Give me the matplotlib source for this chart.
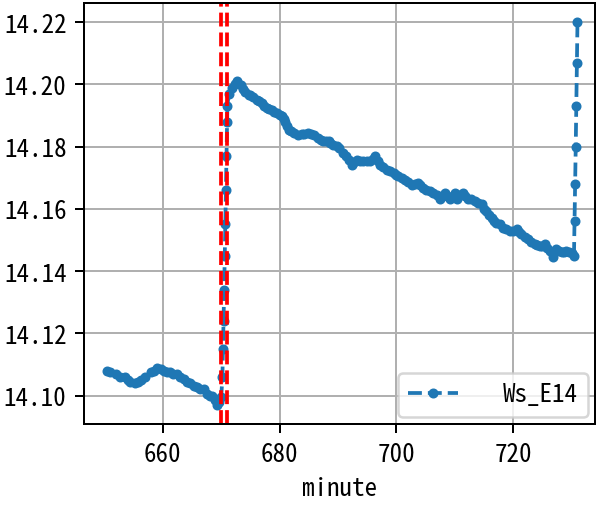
import matplotlib
matplotlib.use("Agg")
import matplotlib.pyplot as plt

plt.rcParams["font.family"] = ["Noto Sans Mono CJK SC", "Noto Sans CJK SC", "DejaVu Sans"]
plt.rcParams["axes.unicode_minus"] = False

minute = [
    650.5, 651.0, 651.9, 652.7, 653.6, 654.0, 654.4, 655.3, 655.8, 656.2,
    657.0, 657.9, 658.5, 659.0, 659.6, 660.2, 660.7, 661.3, 661.8, 662.4,
    663.0, 663.6, 664.1, 664.7, 665.3, 665.9, 666.4, 667.0, 667.6, 668.0,
    668.4, 668.9, 669.3, 669.7, 670.0,
    670.2, 670.3, 670.4, 670.5, 670.6, 670.7, 670.8, 670.9, 671.0, 671.05,
    671.3, 671.9, 672.3, 672.7, 673.3, 673.7, 674.1, 674.7, 675.0, 675.5,
    676.1, 676.5, 677.0, 677.4, 677.8, 678.2, 678.7, 679.0, 679.5, 680.0,
    680.4, 680.7, 681.0, 681.3, 681.6, 682.0, 682.4, 683.2, 683.8, 684.1,
    684.9, 685.3, 685.8, 686.6, 687.1, 687.5, 688.0, 688.4, 688.7, 689.2,
    689.8, 690.2, 690.9, 691.3, 691.8, 692.4, 692.8, 693.2, 693.7, 694.3,
    694.9, 695.5, 696.0, 696.4, 696.8, 697.2, 697.7, 698.3, 698.9, 699.5,
    700.0, 700.3, 700.9, 701.5, 702.0, 702.6, 703.1, 703.7, 704.1, 704.6,
    705.1, 705.7, 706.3, 706.9, 707.5, 707.9, 708.3, 708.7, 709.2, 709.6,
    710.0, 710.4, 710.9, 711.4, 711.8, 712.3, 712.8, 713.4, 714.0, 714.6,
    715.0, 715.4, 715.8, 716.3, 716.7, 717.1, 717.7, 718.3, 718.8, 719.4,
    720.0, 720.6, 721.0, 721.4, 722.0, 722.5, 723.1, 723.7, 724.1, 724.5,
    724.9, 725.4, 725.8, 726.3, 726.8, 727.4, 727.9, 728.3, 728.7, 729.1,
    729.5, 730.0, 730.4,
    730.5, 730.6, 730.7, 730.8, 730.9, 731.0,
]
ws_e14 = [
    14.1080, 14.1075, 14.1070, 14.1060, 14.1060, 14.1050, 14.1045, 14.1040, 14.1042, 14.1050,
    14.1060, 14.1075, 14.1080, 14.1090, 14.1085, 14.1080, 14.1075, 14.1075, 14.1070, 14.1070,
    14.1060, 14.1052, 14.1045, 14.1040, 14.1030, 14.1027, 14.1020, 14.1020, 14.1005, 14.1000,
    14.0998, 14.0985, 14.0970, 14.0980, 14.0995,
    14.1060, 14.1150, 14.1240, 14.1340, 14.1450, 14.1550, 14.1660, 14.1770, 14.1880, 14.1930,
    14.1970, 14.1988, 14.2000, 14.2010, 14.1998, 14.1985, 14.1977, 14.1966, 14.1965, 14.1960,
    14.1950, 14.1948, 14.1940, 14.1930, 14.1924, 14.1920, 14.1918, 14.1910, 14.1908, 14.1900,
    14.1897, 14.1890, 14.1880, 14.1865, 14.1854, 14.1850, 14.1844, 14.1838, 14.1840, 14.1842,
    14.1844, 14.1840, 14.1838, 14.1828, 14.1820, 14.1817, 14.1817, 14.1817, 14.1810, 14.1806,
    14.1801, 14.1796, 14.1780, 14.1770, 14.1758, 14.1742, 14.1750, 14.1758, 14.1755, 14.1753,
    14.1755, 14.1753, 14.1760, 14.1771, 14.1755, 14.1742, 14.1735, 14.1726, 14.1720, 14.1716,
    14.1710, 14.1705, 14.1700, 14.1694, 14.1685, 14.1678, 14.1680, 14.1684, 14.1675, 14.1668,
    14.1660, 14.1657, 14.1650, 14.1646, 14.1630, 14.1640, 14.1652, 14.1640, 14.1630, 14.1640,
    14.1652, 14.1630, 14.1646, 14.1652, 14.1640, 14.1630, 14.1630, 14.1625, 14.1620, 14.1614,
    14.1600, 14.1593, 14.1580, 14.1572, 14.1562, 14.1556, 14.1550, 14.1540, 14.1535, 14.1529,
    14.1530, 14.1534, 14.1525, 14.1518, 14.1510, 14.1502, 14.1495, 14.1486, 14.1485, 14.1481,
    14.1480, 14.1486, 14.1475, 14.1465, 14.1444, 14.1470, 14.1465, 14.1460, 14.1462, 14.1465,
    14.1460, 14.1458, 14.1450,
    14.1560, 14.1680, 14.1800, 14.1930, 14.2070, 14.2200,
]
event_minutes = [670, 671]

fig = plt.figure(figsize=(596 / 180, 506 / 180), dpi=180)
ax = fig.add_axes([84 / 596, 1 - 425 / 506, 511 / 596, 421 / 506])
ax.plot(minute, ws_e14, "--", marker=".", label="Ws_E14")
for m in event_minutes:
    ax.axvline(m, color="r", linestyle="--")
ax.set_xlim(646.5, 734.0)
ax.set_xticks([660, 680, 700, 720])
ax.set_yticks([14.10, 14.12, 14.14, 14.16, 14.18, 14.20, 14.22])
ax.yaxis.set_major_formatter(matplotlib.ticker.FormatStrFormatter("%.2f"))
ax.set_xlabel("minute")
ax.grid(True)
ax.legend(loc="lower right", handletextpad=1.8, borderaxespad=0.3)
fig.savefig("out.png", dpi=180)
